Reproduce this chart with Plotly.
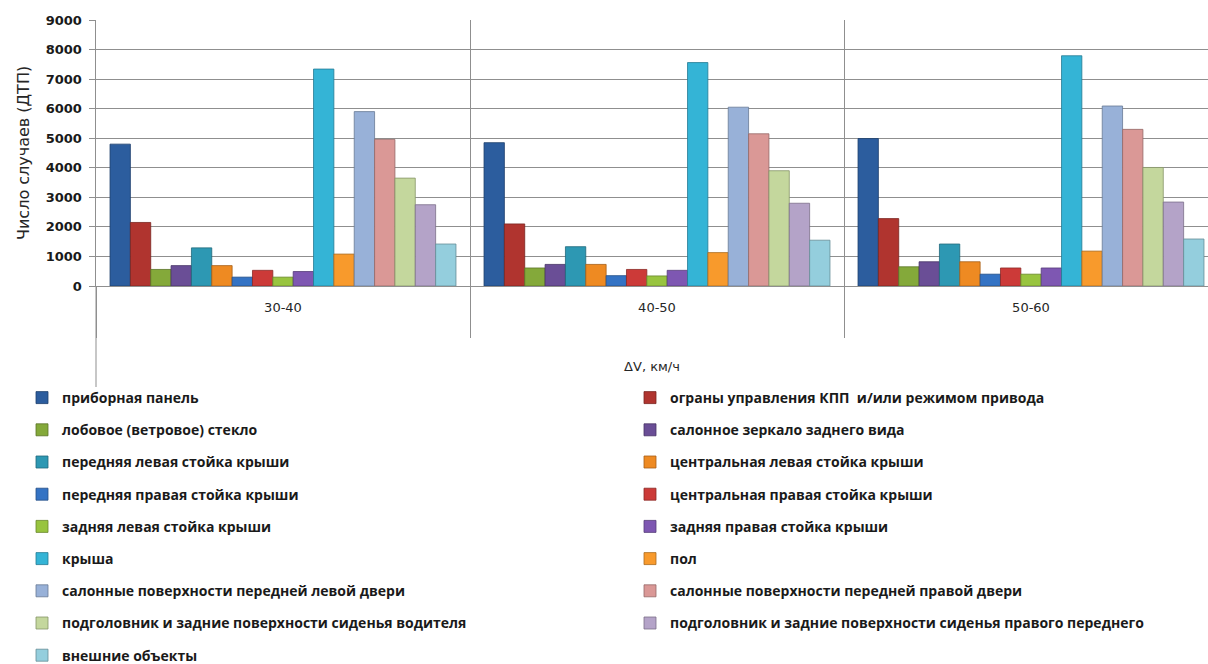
import plotly.graph_objects as go

# Speed-change bins (ΔV, km/h)
categories = ["30-40", "40-50", "50-60"]

# Interior contact points
series_names = [
    "приборная панель",
    "ограны управления КПП  и/или режимом привода",
    "лобовое (ветровое) стекло",
    "салонное зеркало заднего вида",
    "передняя левая стойка крыши",
    "центральная левая стойка крыши",
    "передняя правая стойка крыши",
    "центральная правая стойка крыши",
    "задняя левая стойка крыши",
    "задняя правая стойка крыши",
    "крыша",
    "пол",
    "салонные поверхности передней левой двери",
    "салонные поверхности передней правой двери",
    "подголовник и задние поверхности сиденья водителя",
    "подголовник и задние поверхности сиденья правого переднего",
    "внешние объекты",
]

# Number of crashes per contact point, one list per ΔV bin
values_30_40 = [4800, 2150, 560, 690, 1290, 690, 300, 530, 300, 490, 7340, 1080, 5900, 4960, 3650, 2750, 1420]
values_40_50 = [4850, 2100, 610, 730, 1330, 730, 350, 560, 340, 530, 7560, 1130, 6050, 5150, 3900, 2800, 1550]
values_50_60 = [4990, 2280, 650, 820, 1420, 820, 400, 610, 400, 610, 7790, 1180, 6090, 5300, 4010, 2840, 1590]

colors = [
    "#2c5d9e", "#b0342f", "#84a93a", "#6a4e96", "#2d98b3", "#ee8a22",
    "#3473c4", "#cc3a38", "#98c43f", "#7e57b2", "#34b4d6", "#f89a2c",
    "#98b1d8", "#da9896", "#c4d79d", "#b4a3c8", "#94cedd",
]
edge_colors = [
    "#1d3f6c", "#7a2420", "#5a7427", "#483466", "#1f687b", "#a65e17",
    "#244f86", "#8c2826", "#68862b", "#563c79", "#247b93", "#aa6a1e",
    "#687a96", "#966867", "#879568", "#7b6f89", "#658d97",
]

fig = go.Figure()
for i, name in enumerate(series_names):
    fig.add_trace(go.Bar(
        x=categories,
        y=[values_30_40[i], values_40_50[i], values_50_60[i]],
        name=name,
        marker=dict(color=colors[i], line=dict(color=edge_colors[i], width=0.8)),
        legend="legend" if i % 2 == 0 else "legend2",
        legendgroup="g%d" % i,
    ))

grid_col = "#8f8f8f"
W, H = 1208, 664
plot_top, plot_bottom, plot_left = 20, 286, 96
cat_px = 374.0
x_end = -0.5 + (W - plot_left) / cat_px

legend_font = dict(family="Open Sans", size=14, color="#1a1a1a", weight="bold")
axis_font = dict(family="DejaVu Sans", size=13, color="#262626")

fig.update_layout(
    width=W, height=H,
    margin=dict(l=plot_left, r=0, t=plot_top, b=H - plot_bottom, autoexpand=False),
    paper_bgcolor="white", plot_bgcolor="white",
    barmode="group", bargap=0.075, bargroupgap=0,
    # category labels
    xaxis=dict(
        range=[-0.5, x_end],
        ticks="outside", ticklen=9, tickcolor="rgba(0,0,0,0)",
        showgrid=False,
        showline=True, linecolor=grid_col, linewidth=1,
        tickfont=axis_font,
        title=dict(text="ΔV, км/ч", font=axis_font, standoff=48),
        fixedrange=True,
    ),
    # category separators running through the plot and below the labels
    xaxis2=dict(
        overlaying="x", anchor="y", side="bottom",
        range=[-0.5, x_end], type="category", categoryarray=categories,
        tickmode="array", tickvals=categories,
        tickson="boundaries", ticks="outside", ticklen=51, tickcolor=grid_col, tickwidth=1,
        showticklabels=False,
        showgrid=True, gridcolor=grid_col, gridwidth=1,
        showline=False,
        fixedrange=True,
    ),
    yaxis=dict(
        range=[0, 9000], dtick=1000,
        ticks="outside", ticklen=6, tickcolor=grid_col,
        ticksuffix=" ",
        showgrid=True, gridcolor=grid_col, gridwidth=1,
        showline=True, linecolor=grid_col, linewidth=1,
        zeroline=False,
        tickfont=dict(family="DejaVu Sans", size=13, color="#1a1a1a", weight="bold"),
        fixedrange=True,
    ),
    legend=dict(
        xref="container", yref="container",
        x=22 / W, y=(H - 382) / H, xanchor="left", yanchor="top",
        traceorder="grouped", tracegroupgap=11,
        font=legend_font, bgcolor="rgba(0,0,0,0)",
    ),
    legend2=dict(
        xref="container", yref="container",
        x=630 / W, y=(H - 382) / H, xanchor="left", yanchor="top",
        traceorder="grouped", tracegroupgap=11,
        font=legend_font, bgcolor="rgba(0,0,0,0)",
    ),
    showlegend=True,
)

# Vertical value-axis title
fig.add_annotation(
    text="Число случаев (ДТП)", textangle=-90,
    xref="paper", yref="paper", x=(23 - plot_left) / (W - plot_left), y=0.5,
    xanchor="center", yanchor="middle", showarrow=False,
    font=dict(family="DejaVu Sans", size=16, color="#262626"),
)

# invisible helper trace so the separator axis is laid out
fig.add_trace(go.Scatter(
    x=categories, y=[0, 0, 0], xaxis="x2", yaxis="y",
    mode="markers", marker=dict(opacity=0), showlegend=False, hoverinfo="skip",
))

# Left frame line continuing below the category axis
fig.add_shape(
    type="line", xref="paper", yref="paper",
    x0=0, x1=0, y0=(plot_bottom - 387) / (plot_bottom - plot_top), y1=0,
    line=dict(color=grid_col, width=1),
)

fig.write_html("out.html")
